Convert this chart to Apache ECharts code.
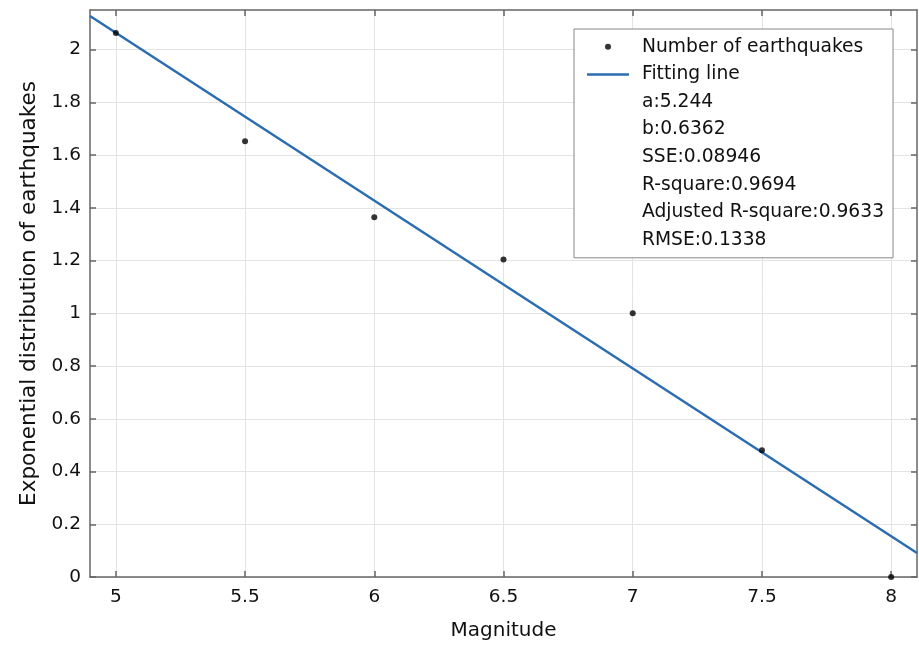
<!DOCTYPE html>
<html>
<head>
<meta charset="utf-8">
<script src="https://cdn.jsdelivr.net/npm/echarts@6/dist/echarts.min.js"></script>
<style>
html,body{margin:0;padding:0;background:#fff;}
#chart{width:919px;height:648px;}
</style>
</head>
<body>
<div id="chart"></div>
<script>
// Data
var magnitudes = [5, 5.5, 6, 6.5, 7, 7.5, 8];
var expDistribution = [2.063, 1.652, 1.364, 1.204, 1.0, 0.481, 0.0];
var fitX = [4.9, 8.1];
var fitY = [2.127, 0.091];
var xTicks = [5, 5.5, 6, 6.5, 7, 7.5, 8];
var yTicks = [0, 0.2, 0.4, 0.6, 0.8, 1, 1.2, 1.4, 1.6, 1.8, 2];
var seriesNames = ['Number of earthquakes', 'Fitting line'];
var statLabels = ['a:5.244', 'b:0.6362', 'SSE:0.08946', 'R-square:0.9694', 'Adjusted R-square:0.9633', 'RMSE:0.1338'];

var FONT = 'DejaVu Sans';
var axisColor = '#666666';
var gridColor = '#e3e3e3';
var lineColor = '#2b6db0';

var scatterData = magnitudes.map(function (m, i) { return [m, expDistribution[i]]; });
var fitData = fitX.map(function (x, i) { return [x, fitY[i]]; });

var legendData = [
  { name: seriesNames[0], icon: 'circle' },
  { name: seriesNames[1], icon: 'path://M0,0 H42 V2.5 H0 Z' }
].concat(statLabels.map(function (s) { return { name: s, icon: 'none' }; }));

var series = [
  {
    name: seriesNames[0], type: 'scatter', data: scatterData,
    symbol: 'circle', symbolSize: 6, clip: false, z: 5,
    itemStyle: { color: '#000' }
  },
  {
    name: seriesNames[1], type: 'line', data: fitData,
    symbol: 'none', showSymbol: false, clip: true, z: 4,
    lineStyle: { color: lineColor, width: 2.5 },
    itemStyle: { color: lineColor }
  }
].concat(statLabels.map(function (s) {
  return { name: s, type: 'line', data: [], symbol: 'none', lineStyle: { opacity: 0 } };
}));

var chart = echarts.init(document.getElementById('chart'), null, { renderer: 'canvas' });
chart.setOption({
  backgroundColor: '#fff',
  animation: false,
  textStyle: { fontFamily: FONT },
  grid: { left: 90, right: 2, top: 10, bottom: 71, containLabel: false },
  legend: {
    data: legendData,
    orient: 'vertical',
    left: 574, top: 29,
    padding: [4, 9, 4, 13],
    itemWidth: 42, itemHeight: 6, itemGap: 0,
    backgroundColor: '#fff',
    borderColor: '#888', borderWidth: 1, borderRadius: 0,
    selectedMode: false,
    textStyle: { fontFamily: FONT, fontSize: 18.7, color: '#111', lineHeight: 27.6, padding: [0, 0, 0, 8] }
  },
  xAxis: [
    {
      type: 'value', position: 'bottom', min: 4.9, max: 8.1,
      name: 'Magnitude', nameLocation: 'middle', nameGap: 44,
      nameTextStyle: { fontFamily: FONT, fontSize: 20, color: '#111' },
      axisLine: { show: true, onZero: false, lineStyle: { color: axisColor, width: 1.5 } },
      axisTick: { show: true, inside: true, length: 6, customValues: xTicks, lineStyle: { color: axisColor, width: 1.5 } },
      axisLabel: { customValues: xTicks, fontFamily: FONT, fontSize: 18.5, color: '#111', margin: 11 },
      splitLine: { show: true, lineStyle: { color: gridColor, width: 1 } }
    },
    {
      type: 'value', position: 'top', min: 4.9, max: 8.1,
      axisLine: { show: true, onZero: false, lineStyle: { color: axisColor, width: 1.5 } },
      axisTick: { show: true, inside: true, length: 6, customValues: xTicks, lineStyle: { color: axisColor, width: 1.5 } },
      axisLabel: { show: false },
      splitLine: { show: false }
    }
  ],
  yAxis: [
    {
      type: 'value', position: 'left', min: 0, max: 2.15, interval: 0.2,
      name: 'Exponential distribution of earthquakes', nameLocation: 'middle', nameGap: 47,
      nameTextStyle: { fontFamily: FONT, fontSize: 21.5, color: '#111' },
      axisLine: { show: true, onZero: false, lineStyle: { color: axisColor, width: 1.5 } },
      axisTick: { show: true, inside: true, length: 6, customValues: yTicks, lineStyle: { color: axisColor, width: 1.5 } },
      axisLabel: { customValues: yTicks, fontFamily: FONT, fontSize: 18.5, color: '#111', margin: 9 },
      splitLine: { show: true, lineStyle: { color: gridColor, width: 1 } }
    },
    {
      type: 'value', position: 'right', min: 0, max: 2.15, interval: 0.2,
      axisLine: { show: true, onZero: false, lineStyle: { color: axisColor, width: 1.5 } },
      axisTick: { show: true, inside: true, length: 6, customValues: yTicks, lineStyle: { color: axisColor, width: 1.5 } },
      axisLabel: { show: false },
      splitLine: { show: false }
    }
  ],
  series: series
});
</script>
</body>
</html>
